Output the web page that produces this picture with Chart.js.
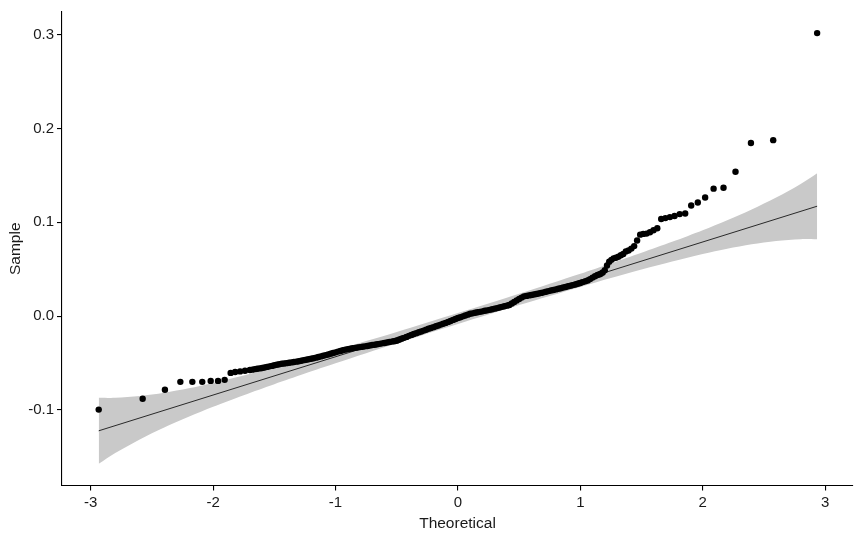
<!DOCTYPE html>
<html>
<head>
<meta charset="utf-8">
<script src="https://cdn.jsdelivr.net/npm/chart.js@4/dist/chart.umd.min.js"></script>
<style>
  html, body { margin: 0; padding: 0; background: #fff; }
  #qqChart { display: block; }
</style>
</head>
<body>
<canvas id="qqChart" width="862" height="538"></canvas>
<script>
// sample quantiles vs theoretical normal quantiles
const theoretical = [
  -2.935, -2.576, -2.394, -2.268, -2.170, -2.089, -2.020, -1.960, -1.906, -1.857,
  -1.82, -1.78, -1.74, -1.70, -1.68, -1.66, -1.64, -1.62, -1.60, -1.58,
  -1.56, -1.54, -1.52, -1.50, -1.48, -1.46, -1.44, -1.42, -1.40, -1.38,
  -1.36, -1.34, -1.32, -1.30, -1.28, -1.26, -1.24, -1.22, -1.20, -1.18,
  -1.16, -1.14, -1.12, -1.10, -1.08, -1.06, -1.04, -1.02, -1.00, -0.98,
  -0.96, -0.94, -0.92, -0.90, -0.88, -0.86, -0.84, -0.82, -0.80, -0.78,
  -0.76, -0.74, -0.72, -0.70, -0.68, -0.66, -0.64, -0.62, -0.60, -0.58,
  -0.56, -0.54, -0.52, -0.50, -0.48, -0.46, -0.44, -0.42, -0.40, -0.38,
  -0.36, -0.34, -0.32, -0.30, -0.28, -0.26, -0.24, -0.22, -0.20, -0.18,
  -0.16, -0.14, -0.12, -0.10, -0.08, -0.06, -0.04, -0.02, 0.00, 0.02,
  0.04, 0.06, 0.08, 0.10, 0.12, 0.14, 0.16, 0.18, 0.20, 0.22,
  0.24, 0.26, 0.28, 0.30, 0.32, 0.34, 0.36, 0.38, 0.40, 0.42,
  0.44, 0.46, 0.48, 0.50, 0.52, 0.54, 0.56, 0.58, 0.60, 0.62,
  0.64, 0.66, 0.68, 0.70, 0.72, 0.74, 0.76, 0.78, 0.80, 0.82,
  0.84, 0.86, 0.88, 0.90, 0.92, 0.94, 0.96, 0.98, 1.00, 1.02,
  1.04, 1.06, 1.08, 1.10, 1.12, 1.14, 1.155,
  1.167, 1.183, 1.200, 1.218, 1.236, 1.254, 1.272, 1.291, 1.311, 1.331,
  1.351, 1.372, 1.394, 1.417, 1.440, 1.464, 1.489, 1.514, 1.541, 1.569,
  1.598, 1.629, 1.661, 1.695, 1.732, 1.770, 1.812, 1.857, 1.906, 1.960,
  2.020, 2.089, 2.170, 2.268, 2.394, 2.576, 2.935
];
const sample = [
  -0.0996, -0.0880, -0.0785, -0.0700, -0.0700, -0.0700, -0.0690, -0.0690, -0.0679, -0.0605,
  -0.0596, -0.0589, -0.0582, -0.0574, -0.0570, -0.0565, -0.0561, -0.0557, -0.0552, -0.0547,
  -0.0541, -0.0535, -0.0530, -0.0524, -0.0518, -0.0512, -0.0508, -0.0504, -0.0501, -0.0497,
  -0.0493, -0.0489, -0.0485, -0.0480, -0.0475, -0.0469, -0.0464, -0.0459, -0.0454, -0.0448,
  -0.0442, -0.0435, -0.0429, -0.0422, -0.0415, -0.0408, -0.0401, -0.0393, -0.0386, -0.0378,
  -0.0371, -0.0363, -0.0357, -0.0351, -0.0347, -0.0342, -0.0338, -0.0334, -0.0330, -0.0326,
  -0.0322, -0.0318, -0.0313, -0.0308, -0.0304, -0.0299, -0.0295, -0.0290, -0.0286, -0.0281,
  -0.0276, -0.0271, -0.0267, -0.0262, -0.0252, -0.0241, -0.0231, -0.0221, -0.0210, -0.0200,
  -0.0190, -0.0181, -0.0172, -0.0163, -0.0154, -0.0145, -0.0135, -0.0126, -0.0117, -0.0108,
  -0.0099, -0.0090, -0.0081, -0.0072, -0.0061, -0.0051, -0.0040, -0.0030, -0.0020, -0.0011,
  -0.0002, 0.0007, 0.0016, 0.0025, 0.0030, 0.0036, 0.0041, 0.0046, 0.0051, 0.0057,
  0.0062, 0.0067, 0.0073, 0.0080, 0.0086, 0.0093, 0.0099, 0.0106, 0.0112, 0.0119,
  0.0135, 0.0151, 0.0168, 0.0184, 0.0198, 0.0211, 0.0216, 0.0221, 0.0226, 0.0231,
  0.0236, 0.0242, 0.0248, 0.0254, 0.0260, 0.0267, 0.0273, 0.0279, 0.0285, 0.0292,
  0.0298, 0.0305, 0.0311, 0.0318, 0.0324, 0.0331, 0.0338, 0.0345, 0.0354, 0.0363,
  0.0371, 0.0380, 0.0395, 0.0411, 0.0425, 0.0439, 0.0445,
  0.0452, 0.0465, 0.0490, 0.0540, 0.0580, 0.0600, 0.0616, 0.0622, 0.0634, 0.0650,
  0.0662, 0.0690, 0.0700, 0.0720, 0.0747, 0.0806, 0.0869, 0.0877, 0.0880, 0.0895,
  0.0915, 0.0937, 0.1035, 0.1045, 0.1056, 0.1067, 0.1088, 0.1095, 0.1180, 0.1211,
  0.1264, 0.1359, 0.1369, 0.1539, 0.1845, 0.1876, 0.3017
];

// reference line end points
const refX = [-2.935, 2.935];
const refY = [-0.1222, 0.1172];

// confidence band edges
const bandX = [-2.935, -2.8, -2.6, -2.4, -2.2, -2.0, -1.75, -1.5, -1.25, -1.0, -0.5, 0, 0.5, 1.0, 1.25, 1.5, 1.75, 2.0, 2.2, 2.4, 2.6, 2.8, 2.935];
const bandUpper = [-0.0870, -0.0871, -0.0852, -0.0817, -0.0769, -0.0712, -0.0632, -0.0547, -0.0456, -0.0362, -0.0169, 0.0033, 0.0239, 0.0452, 0.0562, 0.0675, 0.0792, 0.0916, 0.1023, 0.1137, 0.1264, 0.1409, 0.1524];
const bandLower = [-0.1574, -0.1459, -0.1314, -0.1187, -0.1073, -0.0966, -0.0842, -0.0725, -0.0612, -0.0502, -0.0289, -0.0083, 0.0119, 0.0312, 0.0406, 0.0497, 0.0582, 0.0662, 0.0719, 0.0767, 0.0802, 0.0821, 0.0820];

const xTicks = [-3, -2, -1, 0, 1, 2, 3];
const yTicks = [-0.1, 0.0, 0.1, 0.2, 0.3];

const pts = (xs, ys) => xs.map((x, i) => ({ x: x, y: ys[i] }));

const axisFont = { family: "'Liberation Sans', Arial, sans-serif", size: 15 };
const titleFont = { family: "'Liberation Sans', Arial, sans-serif", size: 15.5 };

const ctx = document.getElementById('qqChart').getContext('2d');
new Chart(ctx, {
    type: 'scatter',
    data: {
        datasets: [
            {
                label: 'Sample',
                data: pts(theoretical, sample),
                backgroundColor: '#000',
                borderColor: '#000',
                pointRadius: 3.2,
                pointBorderWidth: 0,
                order: 0
            },
            {
                label: 'Reference',
                data: pts(refX, refY),
                showLine: true,
                borderColor: '#000',
                borderWidth: 0.8,
                pointRadius: 0,
                fill: false,
                order: 1
            },
            {
                label: 'Upper',
                data: pts(bandX, bandUpper),
                showLine: true,
                borderWidth: 0,
                borderColor: 'rgba(0,0,0,0)',
                backgroundColor: '#c9c9c9',
                pointRadius: 0,
                tension: 0.3,
                fill: '+1',
                order: 2
            },
            {
                label: 'Lower',
                data: pts(bandX, bandLower),
                showLine: true,
                borderWidth: 0,
                borderColor: 'rgba(0,0,0,0)',
                pointRadius: 0,
                tension: 0.3,
                fill: false,
                order: 3
            }
        ]
    },
    options: {
        responsive: false,
        animation: false,
        devicePixelRatio: 1,
        layout: { padding: { top: 8, right: 9, left: 0, bottom: 0 } },
        plugins: {
            legend: { display: false },
            tooltip: { enabled: false }
        },
        scales: {
            x: {
                type: 'linear',
                min: -3.235,
                max: 3.228,
                afterFit: (scale) => { scale.height = 52.5; },
                afterBuildTicks: (scale) => { scale.ticks = xTicks.map(v => ({ value: v })); },
                border: { display: true, color: '#000', width: 1.1 },
                grid: { drawOnChartArea: false, drawTicks: true, tickLength: 5, color: '#000', lineWidth: 1.1 },
                ticks: {
                    color: '#1a1a1a',
                    font: axisFont,
                    padding: 3,
                    maxRotation: 0,
                    callback: (v) => String(v)
                },
                title: {
                    display: true,
                    text: 'Theoretical',
                    color: '#1a1a1a',
                    font: titleFont,
                    padding: { top: 2, bottom: 5 }
                }
            },
            y: {
                type: 'linear',
                min: -0.1805,
                max: 0.3242,
                afterFit: (scale) => { scale.width = 62; },
                afterBuildTicks: (scale) => { scale.ticks = yTicks.map(v => ({ value: v })); },
                border: { display: true, color: '#000', width: 1.1 },
                grid: { drawOnChartArea: false, drawTicks: true, tickLength: 5, color: '#000', lineWidth: 1.1 },
                ticks: {
                    color: '#1a1a1a',
                    font: axisFont,
                    padding: 3,
                    callback: (v) => Number(v).toFixed(1)
                },
                title: {
                    display: true,
                    text: 'Sample',
                    color: '#1a1a1a',
                    font: titleFont,
                    padding: { top: 6, bottom: 2 }
                }
            }
        }
    }
});
</script>
</body>
</html>
